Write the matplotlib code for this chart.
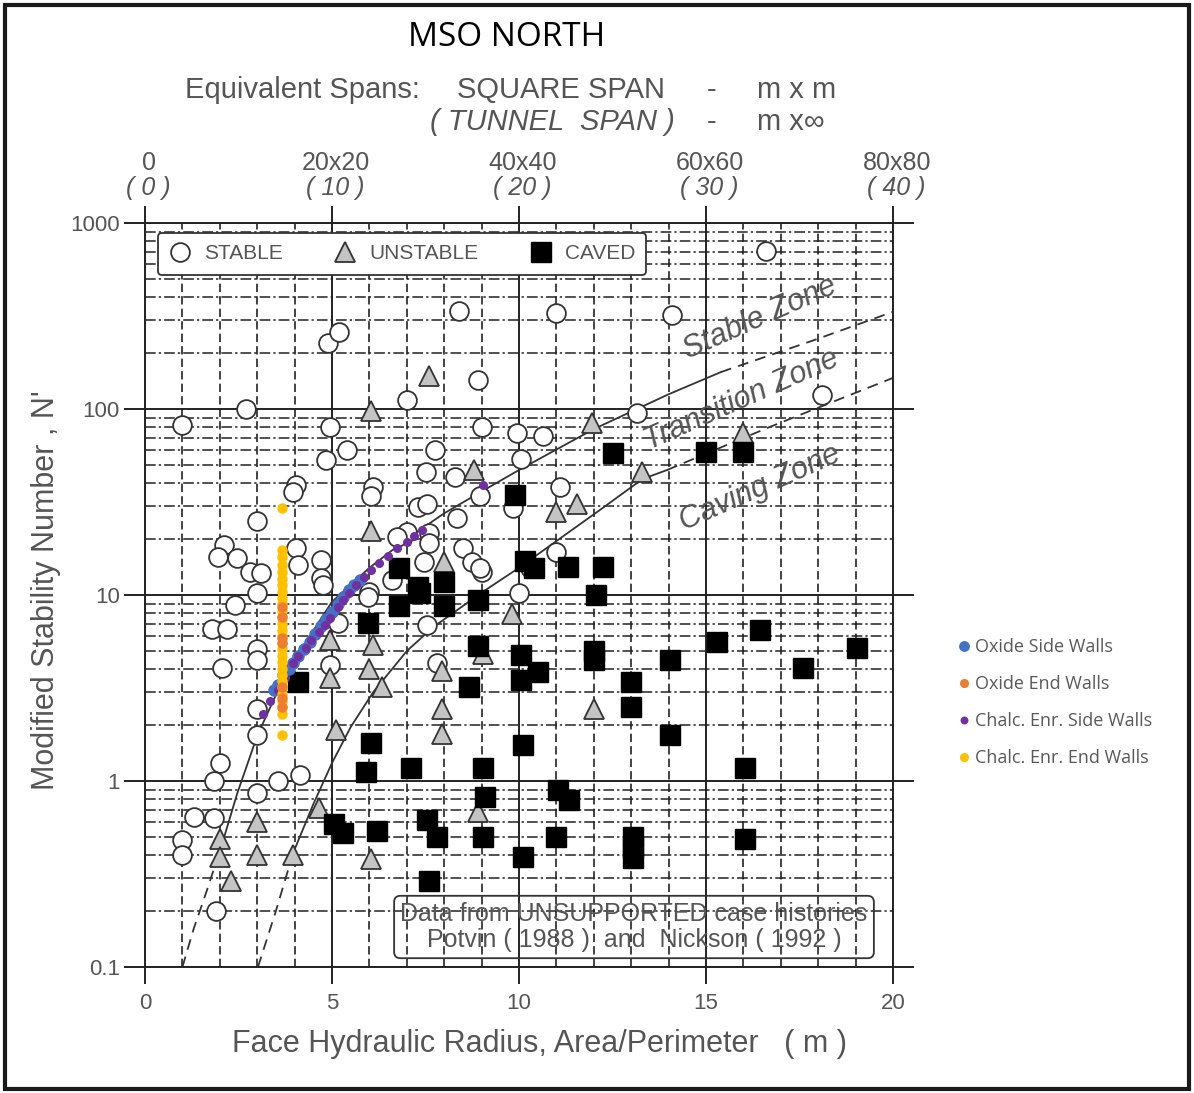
import matplotlib
matplotlib.use("Agg")
import matplotlib.pyplot as plt
from matplotlib.ticker import LogLocator, MultipleLocator, NullFormatter
from matplotlib.patches import Rectangle

plt.rcParams['font.family'] = ['Liberation Sans', 'DejaVu Sans']

# ---- case histories (HR in m, N') ----
stable_x = [1.0, 2.7, 4.9, 5.2, 8.4, 11.0, 14.1, 16.6, 7.0, 8.9,
            4.95, 5.4, 4.85, 9.0, 9.95, 10.65, 10.05, 7.75, 7.5, 8.3,
            6.1, 6.05, 4.05, 3.95, 3.0, 13.15, 18.1, 8.95, 11.1, 9.85,
            11.0, 10.0, 7.3, 7.55, 8.35, 7.6, 7.6, 8.5, 8.75, 9.0,
            7.0, 7.45, 6.6, 6.0, 6.75, 2.1, 1.95, 2.45, 2.8, 3.1,
            4.05, 4.1, 4.7, 4.7, 3.0, 2.4, 1.8, 2.2, 3.0, 3.0,
            2.05, 3.0, 3.0, 2.0, 1.85, 3.55, 4.15, 4.95, 3.0, 1.3,
            1.85, 1.0, 1.0, 1.9, 7.55, 7.8, 5.15, 5.95, 4.75, 10.3, 8.95]
stable_y = [82, 100, 225, 260, 335, 330, 320, 710, 112, 143,
            80, 60, 53, 80, 74, 72, 54, 60, 46, 43,
            38, 34, 39, 36, 25, 95, 119, 34, 38, 29.5,
            17, 10.2, 29.7, 31, 26, 21.5, 19, 17.9, 15, 13.3,
            21.8, 15, 12, 10.4, 20.5, 18.6, 16, 15.8, 13.3, 13.1,
            17.9, 14.5, 15.4, 12.3, 10.2, 8.8, 6.6, 6.6, 5.1, 4.5,
            4.05, 2.45, 1.77, 1.25, 1.0, 1.0, 1.08, 4.2, 0.86, 0.64,
            0.63, 0.48, 0.40, 0.2, 6.9, 4.3, 7.1, 9.8, 11.3, 14, 14]

unstable_x = [7.6, 6.05, 8.8, 6.05, 8.0, 11.95, 13.3, 16.0, 11.0, 11.55,
              4.95, 5.1, 4.95, 4.65, 3.0, 3.0, 2.0, 2.0, 2.3, 3.95,
              6.05, 6.1, 6.0, 6.35, 7.95, 7.95, 7.95, 9.8, 9.05, 12.0, 8.9]
unstable_y = [150, 97, 47, 22, 15, 84, 46, 74, 28, 31,
              3.6, 1.88, 5.7, 0.72, 0.6, 0.40, 0.49, 0.39, 0.29, 0.40,
              0.38, 5.4, 4.0, 3.2, 3.9, 2.45, 1.8, 7.9, 4.8, 2.45, 0.68]

caved_x = [9.9, 12.5, 15.0, 16.0, 10.15, 10.4, 11.3, 12.25, 12.05, 6.8,
           7.3, 8.0, 8.9, 8.0, 6.8, 5.95, 4.1, 8.9, 8.65, 10.05,
           10.05, 10.5, 12.0, 12.0, 13.0, 13.0, 14.05, 14.05, 15.3, 16.45,
           17.6, 19.05, 16.05, 10.1, 9.05, 11.05, 11.35, 9.1, 11.0, 13.05,
           13.05, 13.05, 16.05, 10.1, 9.05, 5.05, 5.3, 6.2, 7.55, 7.8,
           7.6, 6.05, 5.9, 7.1, 7.35]
caved_y = [34.5, 58, 58.5, 58.5, 15.3, 14, 14.2, 14.2, 10.0, 14,
           11, 11.7, 9.4, 8.7, 8.7, 7.1, 3.4, 5.3, 3.2, 4.75,
           3.5, 3.85, 5.0, 4.5, 3.4, 2.5, 4.5, 1.77, 5.6, 6.5,
           4.05, 5.2, 1.17, 1.56, 1.17, 0.9, 0.79, 0.82, 0.5, 0.5,
           0.44, 0.385, 0.49, 0.39, 0.5, 0.59, 0.525, 0.54, 0.62, 0.5,
           0.29, 1.6, 1.12, 1.17, 10.2]

# ---- MSO North walls ----
ox_side_x = [3.45, 3.55, 3.7, 3.85, 3.95, 4.1, 4.25, 4.4, 4.55, 4.7,
             4.85, 5.0, 5.15, 5.3, 5.45, 5.6, 5.75]
ox_side_y = [3.1, 3.3, 3.7, 4.0, 4.3, 4.7, 5.1, 5.6, 6.2, 6.8,
             7.4, 8.1, 8.9, 9.8, 10.7, 11.3, 12.0]

ox_end_x = [3.67, 3.67, 3.67, 3.67, 3.67, 3.67, 3.67]
ox_end_y = [8.6, 7.6, 5.9, 5.5, 3.2, 2.8, 2.5]

ch_side_x = [3.15, 3.35, 3.55, 3.75, 3.95, 4.1, 4.3, 4.45, 4.65, 4.8,
             4.95, 5.15, 5.3, 5.45, 5.65, 5.85, 6.05, 6.25, 6.5, 6.75,
             7.0, 7.2, 7.4, 9.05]
ch_side_y = [2.3, 2.7, 3.1, 3.6, 4.3, 4.7, 5.2, 5.7, 6.3, 6.9,
             7.5, 8.6, 9.4, 10.2, 11.3, 12.5, 13.6, 14.8, 16.2, 18.0,
             19.3, 20.8, 22.4, 39]

ch_end_x = [3.67] * 28
ch_end_y = [29.5, 17.5, 16.0, 14.5, 13.3, 12.2, 11.3, 10.4, 9.6, 8.9,
            8.2, 7.6, 7.0, 6.5, 6.0, 5.5, 5.1, 4.7, 4.35, 4.0,
            3.7, 3.45, 3.2, 2.95, 2.7, 2.5, 2.3, 1.77]

# ---- zone boundaries (traced) ----
up_dash1_x = [1.0, 1.3, 1.66, 2.05]
up_dash1_y = [0.1, 0.16, 0.26, 0.45]
up_solid_x = [2.05, 2.46, 3.0, 3.5, 4.0, 5.0, 6.0, 7.0, 8.0, 9.0, 10.0, 12.0, 14.0, 15.4]
up_solid_y = [0.45, 0.85, 1.75, 2.9, 4.5, 9.2, 14, 20, 27.5, 36, 47, 78, 120, 158]
up_dash2_x = [15.4, 17.9, 20.0]
up_dash2_y = [158, 235, 333]

lo_dash1_x = [3.02, 3.5, 3.96]
lo_dash1_y = [0.1, 0.2, 0.41]
lo_solid_x = [3.96, 4.5, 5.0, 5.5, 6.1, 7.0, 7.7, 9.0, 10.0, 11.0, 12.2, 13.3, 13.96]
lo_solid_y = [0.41, 0.75, 1.25, 1.95, 3.0, 5.0, 6.7, 10.3, 14.0, 19.5, 29, 42, 47]
lo_dash2_x = [13.96, 16.7, 20.0]
lo_dash2_y = [47, 80, 147]

x_ticks = [0, 5, 10, 15, 20]
y_ticks = [0.1, 1, 10, 100, 1000]
y_tick_labels = ['0.1', '1', '10', '100', '1000']
top_sq_labels = ['0', '20x20', '40x40', '60x60', '80x80']
top_tn_labels = ['( 0 )', '( 10 )', '( 20 )', '( 30 )', '( 40 )']

GRAY = '#555555'
INK = '#222222'
W, H = 1194, 1093


def fx(px):
    return px / W


def fy(py):
    return 1 - py / H


fig = plt.figure(figsize=(W / 100, H / 100), dpi=100)
ax = fig.add_axes([fx(145), fy(967), fx(893) - fx(145), fy(223) - fy(967)])
ax.set_yscale('log')
ax.set_xlim(0, 20)
ax.set_ylim(0.1, 1000)

# grid
ax.xaxis.set_major_locator(MultipleLocator(5))
ax.xaxis.set_minor_locator(MultipleLocator(1))
ax.set_xticks(x_ticks)
ax.set_yticks(y_ticks, labels=y_tick_labels)
ax.yaxis.set_minor_locator(LogLocator(base=10, subs=range(2, 10)))
ax.yaxis.set_minor_formatter(NullFormatter())
ax.grid(which='major', color=INK, lw=1.4, ls='-')
ax.grid(which='minor', axis='y', color=INK, lw=1.1, ls=(0, (7, 2, 1.5, 2)))
ax.grid(which='minor', axis='x', color=INK, lw=1.2, ls=(0, (5, 2.5)))
ax.set_axisbelow(True)
for s in ax.spines.values():
    s.set_color(INK)
    s.set_linewidth(1.4)
ax.tick_params(which='minor', length=0)
ax.tick_params(axis='y', which='major', direction='out', length=15, width=1.4,
               colors=INK, labelcolor=GRAY, labelsize=16, right=True, pad=3)
ax.tick_params(axis='x', which='major', direction='out', length=12, width=1.4,
               colors=INK, labelcolor=GRAY, labelsize=16, top=True, pad=7)

# boundaries
line_kw = dict(color='#333333', lw=1.3, zorder=2)
ax.plot(up_dash1_x, up_dash1_y, ls=(0, (6, 4)), **line_kw)
ax.plot(up_solid_x, up_solid_y, ls='-', **line_kw)
ax.plot(up_dash2_x, up_dash2_y, ls=(0, (6, 4)), **line_kw)
ax.plot(lo_dash1_x, lo_dash1_y, ls=(0, (6, 4)), **line_kw)
ax.plot(lo_solid_x, lo_solid_y, ls='-', **line_kw)
ax.plot(lo_dash2_x, lo_dash2_y, ls=(0, (6, 4)), **line_kw)

# case histories
h_st, = ax.plot(stable_x, stable_y, 'o', ms=13.5, mfc='white', mec='#333333',
                mew=1.3, ls='none', zorder=3)
h_un, = ax.plot(unstable_x, unstable_y, '^', ms=14, mfc='#c4c4c4', mec='#333333',
                mew=1.3, ls='none', zorder=3)
h_cv, = ax.plot(caved_x, caved_y, 's', ms=15, mfc='black', mec='black',
                ls='none', zorder=3)

# MSO North
h_b, = ax.plot(ox_side_x, ox_side_y, 'o', ms=8, color='#4472C4', ls='none', zorder=4)
h_p, = ax.plot(ch_side_x, ch_side_y, 'o', ms=5.5, color='#7030A0', ls='none', zorder=4.2)
h_y, = ax.plot(ch_end_x, ch_end_y, 'o', ms=6.5, color='#FFC000', ls='none', zorder=4.3)
h_o, = ax.plot(ox_end_x, ox_end_y, 'o', ms=6.5, color='#ED7D31', ls='none', zorder=4.4)

# zone names
zone_kw = dict(fontsize=22, style='italic', color=GRAY, rotation=24,
               rotation_mode='anchor', ha='center', va='center', zorder=4)
ax.text(16.44, 308, 'Stable Zone', **zone_kw)
ax.text(15.96, 112, 'Transition Zone', **zone_kw)
ax.text(16.44, 37.6, 'Caving Zone', **zone_kw)

# top span scale
for xv, sq, tn in zip(x_ticks, top_sq_labels, top_tn_labels):
    ax.text(xv + 0.1, 1.081, sq, transform=ax.get_xaxis_transform(), ha='center',
            va='center', fontsize=18, color=GRAY)
    ax.text(xv + 0.1, 1.047, tn, transform=ax.get_xaxis_transform(), ha='center',
            va='center', fontsize=18, color=GRAY, style='italic')

ax.set_xlabel('Face Hydraulic Radius, Area/Perimeter   ( m )', fontsize=22, color=GRAY)
ax.xaxis.set_label_coords(0.528, -0.083)
ax.set_ylabel("Modified Stability Number , N'", fontsize=22, color=GRAY)
ax.yaxis.set_label_coords(-0.112, 0.507)

leg1 = ax.legend(handles=[h_st, h_un, h_cv], labels=['STABLE', 'UNSTABLE', 'CAVED'],
                 ncol=3, loc='upper left', bbox_to_anchor=(fx(158), fy(233)),
                 bbox_transform=fig.transFigure, borderaxespad=0, fontsize=15,
                 handlelength=1.0, handletextpad=0.65, columnspacing=2.5,
                 borderpad=0.55, frameon=True, fancybox=True, edgecolor='#333333',
                 facecolor='white', framealpha=1, labelcolor=GRAY)
leg1.get_frame().set_linewidth(1.3)

fig.legend(handles=[h_b, h_o, h_p, h_y],
           labels=['Oxide Side Walls', 'Oxide End Walls', 'Chalc. Enr. Side Walls',
                   'Chalc. Enr. End Walls'],
           loc='upper left', bbox_to_anchor=(fx(943), fy(622)), frameon=False,
           prop={'family': 'Open Sans', 'size': 13}, labelspacing=1.05,
           handlelength=0.5, handletextpad=0.35, labelcolor='#595959',
           markerscale=0.85)

# headings
fig.text(fx(507), fy(37), 'MSO NORTH', ha='center', va='center', fontsize=24,
         family='Open Sans', color='black')
hd = dict(fontsize=21, color=GRAY, va='center')
fig.text(fx(185), fy(90), 'Equivalent Spans:', ha='left', **hd)
fig.text(fx(457), fy(90), 'SQUARE SPAN', ha='left', **hd)
fig.text(fx(712), fy(90), '-', ha='center', **hd)
fig.text(fx(757), fy(90), 'm x m', ha='left', **hd)
fig.text(fx(430), fy(122), '( TUNNEL  SPAN )', ha='left', style='italic', **hd)
fig.text(fx(712), fy(122), '-', ha='center', **hd)
fig.text(fx(757), fy(122), 'm x\u221e', ha='left', **hd)

fig.text(fx(634), fy(927),
         'Data from UNSUPPORTED case histories\nPotvin ( 1988 )  and  Nickson ( 1992 )',
         ha='center', va='center', fontsize=18, linespacing=1.1, color=GRAY,
         bbox=dict(boxstyle='round,pad=0.25', fc='none', ec='#333333', lw=1.3))

fig.add_artist(Rectangle((fx(5), fy(1089)), fx(1189) - fx(5), fy(5) - fy(1089),
                         transform=fig.transFigure, fill=False, ec='#1a1a1a', lw=3))

fig.savefig('out.png', dpi=100)
